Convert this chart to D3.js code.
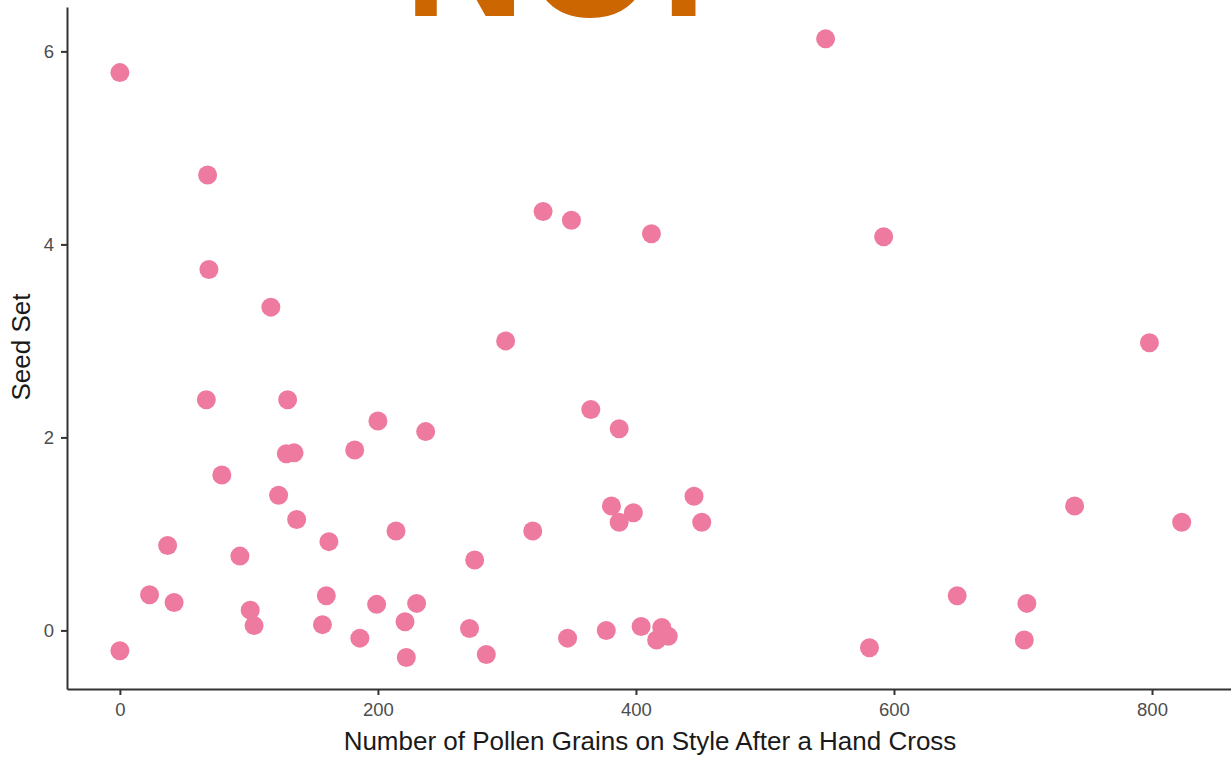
<!DOCTYPE html>
<html>
<head>
<meta charset="utf-8">
<script src="https://cdn.jsdelivr.net/npm/d3@7"></script>
<style>
  html, body { margin: 0; padding: 0; background: #fff; }
  svg { display: block; font-family: "Liberation Sans", Arial, Helvetica, sans-serif; }
</style>
</head>
<body>
<svg id="chart" width="1231" height="757"></svg>
<script>
// Pollen grains on the style after a hand cross vs. resulting seed set
const pollenGrains = [
  0, 0, 68, 69, 67, 79, 37, 23, 42, 93,
  101, 104, 117, 130, 129, 135, 123, 137, 162, 160,
  157, 186, 182, 200, 214, 199, 221, 222, 230, 237,
  275, 271, 284, 299, 320, 328, 350, 347, 365, 387,
  381, 387, 398, 377, 404, 412, 416, 420, 425, 445,
  451, 547, 592, 581, 649, 703, 701, 740, 798, 823
];
const seedSet = [
  5.78, -0.21, 4.72, 3.74, 2.39, 1.61, 0.88, 0.37, 0.29, 0.77,
  0.21, 0.05, 3.35, 2.39, 1.83, 1.84, 1.40, 1.15, 0.92, 0.36,
  0.06, -0.08, 1.87, 2.17, 1.03, 0.27, 0.09, -0.28, 0.28, 2.06,
  0.73, 0.02, -0.25, 3.00, 1.03, 4.34, 4.25, -0.08, 2.29, 2.09,
  1.29, 1.12, 1.22, 0.00, 0.04, 4.11, -0.10, 0.03, -0.06, 1.39,
  1.12, 6.13, 4.08, -0.18, 0.36, 0.28, -0.10, 1.29, 2.98, 1.12
];
const xTicks = [0, 200, 400, 600, 800];
const yTicks = [0, 2, 4, 6];
const xDomain = [-41, 862];
const yDomain = [-0.607, 6.46];

const svg = d3.select("#chart");

const x = d3.scaleLinear().domain(xDomain).range([67, 1232]);
const y = d3.scaleLinear().domain(yDomain).range([689, 7]);

// Big orange heading, mostly above the top edge
svg.append("text")
  .attr("x", 404)
  .attr("y", 16)
  .attr("font-size", 168)
  .attr("font-weight", "bold")
  .attr("fill", "#cc6600")
  .text("NO!");

// Points
svg.append("g")
  .selectAll("circle")
  .data(pollenGrains.map((v, i) => [v, seedSet[i]]))
  .join("circle")
  .attr("cx", d => x(d[0]))
  .attr("cy", d => y(d[1]))
  .attr("r", 9.5)
  .attr("fill", "#ee7aa0");

// Axes
const xAxis = svg.append("g")
  .attr("transform", `translate(0,${y(yDomain[0])})`)
  .call(d3.axisBottom(x).tickValues(xTicks).tickFormat(d3.format("d"))
    .tickSize(6).tickSizeOuter(0).tickPadding(8));

const yAxis = svg.append("g")
  .attr("transform", `translate(${x(xDomain[0])},0)`)
  .call(d3.axisLeft(y).tickValues(yTicks).tickFormat(d3.format("d"))
    .tickSize(6).tickSizeOuter(0).tickPadding(7));

[xAxis, yAxis].forEach(g => {
  g.select(".domain").attr("stroke", "#333").attr("stroke-width", 2);
  g.selectAll(".tick line").attr("stroke", "#333").attr("stroke-width", 2);
  g.selectAll(".tick text")
    .attr("font-size", 18.5)
    .attr("fill", "#4d4d4d")
    .attr("font-family", "Liberation Sans, Arial, sans-serif");
});

// Axis titles
svg.append("text")
  .attr("x", 650)
  .attr("y", 750)
  .attr("text-anchor", "middle")
  .attr("font-size", 26)
  .attr("fill", "#1a1a1a")
  .text("Number of Pollen Grains on Style After a Hand Cross");

svg.append("text")
  .attr("transform", "translate(30,347) rotate(-90)")
  .attr("text-anchor", "middle")
  .attr("font-size", 26)
  .attr("fill", "#1a1a1a")
  .text("Seed Set");
</script>
</body>
</html>
